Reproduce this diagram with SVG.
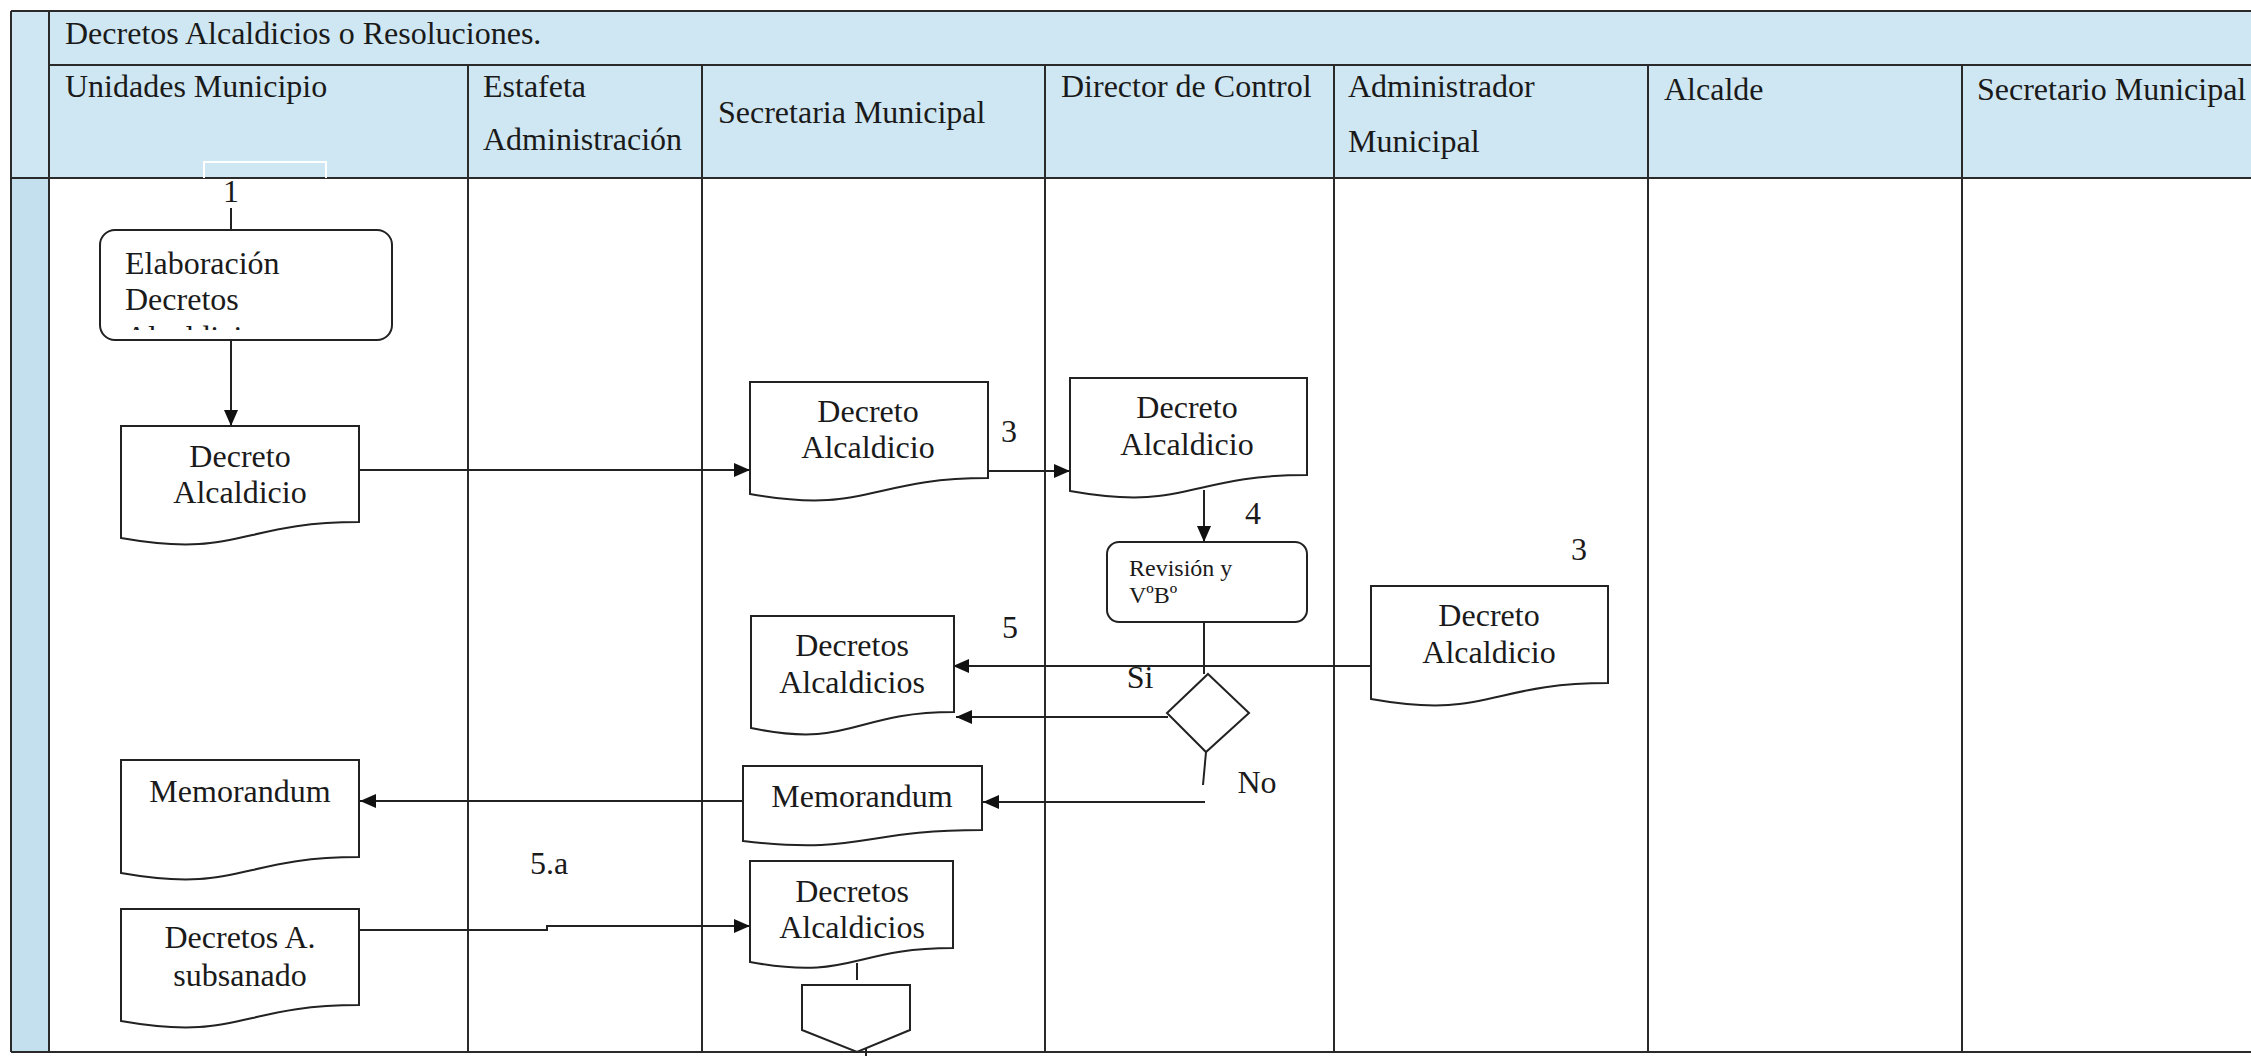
<svg xmlns="http://www.w3.org/2000/svg" width="2251" height="1056" viewBox="0 0 2251 1056">
<style>
text{font-family:"Liberation Serif","Times New Roman",serif;fill:#1a1a1a}
.h{font-size:32px}
.t{font-size:32px;text-anchor:middle}
.s{font-size:24px}
.grid{stroke:#2a2a2a;stroke-width:2;fill:none}
.shape{fill:#fff;stroke:#222;stroke-width:2}
.c{stroke:#222;stroke-width:2;fill:none}
.ca{stroke:#222;stroke-width:2;fill:none;marker-end:url(#ah)}
</style>
<defs>
<marker id="ah" markerUnits="userSpaceOnUse" markerWidth="16" markerHeight="14" refX="16" refY="7" orient="auto">
<path d="M0,0 L16,7 L0,14 Z" fill="#111"/>
</marker>
<clipPath id="clipElab"><rect x="102" y="232" width="288" height="98"/></clipPath>
</defs>
<rect x="0" y="0" width="2251" height="1056" fill="#fff"/>
<!-- backgrounds -->
<rect x="11" y="11" width="2240" height="167" fill="#cfe7f2"/>
<rect x="11" y="178" width="38" height="874" fill="#c4e0ee"/>
<!-- table grid -->
<g id="table">
<path class="grid" d="M11,11 H2251 M49,65 H2251 M11,178 H2251 M11,1052 H2251 M11,11 V1052 M49,11 V1052"/>
<path class="grid" d="M468,65 V1052 M702,65 V1052 M1045,65 V1052 M1334,65 V1052 M1648,65 V1052 M1962,65 V1052"/>
<path d="M204,178 V162 H326 V178" stroke="#fff" stroke-width="2" fill="none"/>
</g>
<g id="headers">
<text class="h" x="65" y="44">Decretos Alcaldicios o Resoluciones.</text>
<text class="h" x="65" y="97">Unidades Municipio</text>
<text class="h" x="483" y="97">Estafeta</text>
<text class="h" x="483" y="150">Administración</text>
<text class="h" x="718" y="123">Secretaria Municipal</text>
<text class="h" x="1061" y="97">Director de Control</text>
<text class="h" x="1348" y="97">Administrador</text>
<text class="h" x="1348" y="152">Municipal</text>
<text class="h" x="1664" y="100">Alcalde</text>
<text class="h" x="1977" y="100">Secretario Municipal</text>
</g>
<g id="connectors">
<line class="c" x1="231" y1="208" x2="231" y2="240"/>
<line class="ca" x1="231" y1="340" x2="231" y2="426"/>
<line class="ca" x1="357" y1="470" x2="750" y2="470"/>
<line class="ca" x1="984" y1="471" x2="1070" y2="471"/>
<line class="ca" x1="1204" y1="490" x2="1204" y2="542"/>
<line class="c" x1="1204" y1="622" x2="1204" y2="674"/>
<line class="ca" x1="1371" y1="666" x2="953" y2="666"/>
<line class="ca" x1="1168" y1="717" x2="956" y2="717"/>
<line class="c" x1="1206" y1="752" x2="1203" y2="785"/>
<line class="ca" x1="1205" y1="802" x2="983" y2="802"/>
<line class="ca" x1="743" y1="801" x2="360" y2="801"/>
<path class="ca" d="M359,930 H547 V926 H750"/>
<line class="c" x1="857" y1="963" x2="857" y2="980"/>
<line class="c" x1="866" y1="1048" x2="866" y2="1056"/>
</g>
<g id="labels">
<text class="t" x="231" y="202">1</text>
<text class="t" x="1009" y="442">3</text>
<text class="t" x="1253" y="524">4</text>
<text class="t" x="1579" y="560">3</text>
<text class="t" x="1010" y="638">5</text>
<text class="t" x="1140" y="688">Si</text>
<text class="t" x="1257" y="793">No</text>
<text class="t" x="549" y="874">5.a</text>
</g>
<g id="n-elaboracion">
<rect class="shape" x="100" y="230" width="292" height="110" rx="15"/>
<g clip-path="url(#clipElab)">
<text class="h" x="125" y="274">Elaboración</text>
<text class="h" x="125" y="310">Decretos</text>
<text class="h" x="125" y="348">Alcaldicios</text>
</g>
</g>
<g id="n-decreto-unidades">
<path class="shape" d="M121,426 H359 V522 C240,522 240,559 121,538 Z"/>
<text class="t" x="240" y="467">Decreto</text>
<text class="t" x="240" y="503">Alcaldicio</text>
</g>
<g id="n-decreto-secretaria">
<path class="shape" d="M750,382 H988 V478 C869,478 869,515 750,494 Z"/>
<text class="t" x="868" y="422">Decreto</text>
<text class="t" x="868" y="458">Alcaldicio</text>
</g>
<g id="n-decreto-director">
<path class="shape" d="M1070,378 H1307 V475 C1188,475 1188,512 1070,491 Z"/>
<text class="t" x="1187" y="418">Decreto</text>
<text class="t" x="1187" y="455">Alcaldicio</text>
</g>
<g id="n-revision">
<rect class="shape" x="1107" y="542" width="200" height="80" rx="12"/>
<text class="s" x="1129" y="576">Revisión y</text>
<text class="s" x="1129" y="603">VºBº</text>
</g>
<g id="n-decision">
<polygon class="shape" points="1208,674 1249,713 1206,752 1167,713"/>
</g>
<g id="n-decreto-admin">
<path class="shape" d="M1371,586 H1608 V683 C1489,683 1489,720 1371,699 Z"/>
<text class="t" x="1489" y="626">Decreto</text>
<text class="t" x="1489" y="663">Alcaldicio</text>
</g>
<g id="n-decretos-alcaldicios-5">
<path class="shape" d="M751,616 H954 V712 C852,712 852,749 751,728 Z"/>
<text class="t" x="852" y="656">Decretos</text>
<text class="t" x="852" y="693">Alcaldicios</text>
</g>
<g id="n-memorandum-secretaria">
<path class="shape" d="M743,766 H982 V830 C862,830 862,855 743,841 Z"/>
<text class="t" x="862" y="807">Memorandum</text>
</g>
<g id="n-memorandum-unidades">
<path class="shape" d="M121,760 H359 V857 C240,857 240,894 121,873 Z"/>
<text class="t" x="240" y="802">Memorandum</text>
</g>
<g id="n-decretos-subsanado">
<path class="shape" d="M121,909 H359 V1005 C240,1005 240,1042 121,1021 Z"/>
<text class="t" x="240" y="948">Decretos A.</text>
<text class="t" x="240" y="986">subsanado</text>
</g>
<g id="n-decretos-alcaldicios-final">
<path class="shape" d="M750,861 H953 V948 C852,948 852,981 750,962 Z"/>
<text class="t" x="852" y="902">Decretos</text>
<text class="t" x="852" y="938">Alcaldicios</text>
</g>
<g id="n-offpage">
<polygon class="shape" points="802,985 910,985 910,1030 857,1052 802,1030"/>
</g>
</svg>
